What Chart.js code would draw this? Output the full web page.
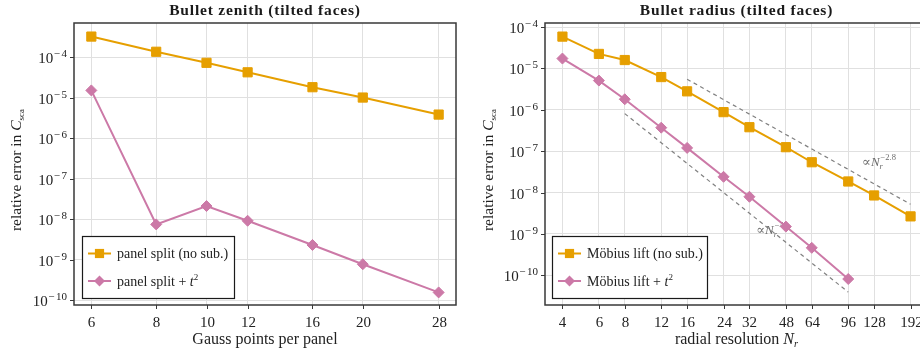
<!DOCTYPE html>
<html>
<head>
<meta charset="utf-8">
<script src="https://cdn.jsdelivr.net/npm/chart.js@4.4.0/dist/chart.umd.min.js"></script>
<style>
  html, body { margin: 0; padding: 0; background: #fff; overflow: hidden; }
  #wrap { position: relative; width: 920px; height: 351px; overflow: hidden; }
  #zenith { position: absolute; left: 0; top: 0; }
  #radius { position: absolute; left: 460px; top: 0; }
</style>
</head>
<body>
<div id="wrap">
  <canvas id="zenith" width="470" height="351"></canvas>
  <canvas id="radius" width="480" height="351"></canvas>
</div>
<script>
// --- data ---
const gaussPts = [6, 8, 10, 12, 16, 20, 28];
const zenithNoSub = [3.2e-4, 1.35e-4, 7.2e-5, 4.2e-5, 1.8e-5, 1.0e-5, 3.8e-6];
const zenithT2 = [1.5e-5, 7.4e-9, 2.1e-8, 9.1e-9, 2.3e-9, 7.7e-10, 1.55e-10];

const radialN = [4, 6, 8, 12, 16, 24, 32, 48, 64, 96, 128, 192];
const radiusNoSub = [5.9e-5, 2.25e-5, 1.6e-5, 6.2e-6, 2.8e-6, 8.8e-7, 3.8e-7, 1.25e-7, 5.4e-8, 1.85e-8, 8.5e-9, 2.65e-9];
const radialNT2 = [4, 6, 8, 12, 16, 24, 32, 48, 64, 96];
const radiusT2 = [1.74e-5, 5.1e-6, 1.8e-6, 3.7e-7, 1.2e-7, 2.4e-8, 7.9e-9, 1.5e-9, 4.6e-10, 8.1e-11];

// reference slopes (dashed)
const refSlowN = [16, 192];
const refSlowErr = [5.5e-6, 5.2e-9];   // ~ N^-2.8
const refFastN = [8, 96];
const refFastErr = [8.1e-7, 3.9e-11];  // ~ N^-4

const yExponents = [-10, -9, -8, -7, -6, -5, -4];

const ORANGE = "#E69F00";
const PINK = "#CC79A7";
const GRID = "#e0e0e0";
const FRAME = "#383838";
const FONT = '"Liberation Serif", "DejaVu Serif", serif';

function fnt(p) {
  return (p.italic ? "italic " : "") + (p.bold ? "bold " : "") + p.size + "px " + FONT;
}

function partWidth(ctx, p) {
  ctx.font = fnt(p);
  ctx.letterSpacing = (p.spacing || 0) + "px";
  return (p.padL || 0) + ctx.measureText(p.text).width;
}

function richWidth(ctx, parts) {
  let w = 0;
  parts.forEach(p => { const pw = partWidth(ctx, p); if (!p.noAdvance) w += pw; });
  return w;
}

// y is the baseline
function drawRich(ctx, parts, x, y, align, color) {
  const w = richWidth(ctx, parts);
  let cx = align === "center" ? x - w / 2 : align === "right" ? x - w : x;
  ctx.textAlign = "left";
  ctx.textBaseline = "alphabetic";
  ctx.fillStyle = color || "#222";
  parts.forEach(p => {
    const pw = partWidth(ctx, p);
    ctx.fillText(p.text, cx + (p.padL || 0), y + (p.dy || 0));
    if (!p.noAdvance) cx += pw;
  });
  ctx.letterSpacing = "0px";
}

function xy(xs, ys) {
  return xs.map((x, i) => ({ x: x, y: ys[i] }));
}

function lineSet(label, xs, ys, color, style, radius) {
  return {
    label: label,
    data: xy(xs, ys),
    borderColor: color,
    backgroundColor: color,
    borderWidth: 2,
    pointStyle: style,
    pointRadius: radius,
    pointBackgroundColor: color,
    pointBorderColor: color,
    pointBorderWidth: 1,
    tension: 0
  };
}

function dashSet(xs, ys) {
  return {
    data: xy(xs, ys),
    borderColor: "#808080",
    borderWidth: 1.2,
    borderDash: [4, 3.5],
    pointRadius: 0,
    tension: 0
  };
}

function drawMarker(ctx, style, x, y, r, color) {
  ctx.fillStyle = color;
  ctx.beginPath();
  if (style === "rect") {
    const s = Math.SQRT1_2 * r;
    ctx.rect(x - s, y - s, 2 * s, 2 * s);
  } else {
    ctx.moveTo(x - r, y); ctx.lineTo(x, y - r); ctx.lineTo(x + r, y); ctx.lineTo(x, y + r);
    ctx.closePath();
  }
  ctx.fill();
}

function noteParts(exp) {
  return [
    { text: "\u221d", size: 13 }, { text: "N", size: 13, italic: true },
    { text: "r", size: 8.5, italic: true, dy: 3, noAdvance: true },
    { text: exp, size: 8.5, dy: -6, padL: 1 }
  ];
}

const setup = {};

const deco = {
  id: "deco",
  beforeDatasetsDraw(chart) {
    const c = setup[chart.canvas.id];
    const ctx = chart.ctx, xs = chart.scales.x, ys = chart.scales.y;
    ctx.save();
    (c.notes || []).forEach(n => {
      drawRich(ctx, n.parts, xs.getPixelForValue(n.x), ys.getPixelForValue(n.y), "left", "#6a6a6a");
    });
    ctx.restore();
  },
  afterDraw(chart) {
    const c = setup[chart.canvas.id];
    const ctx = chart.ctx, a = chart.chartArea;
    const xs = chart.scales.x, ys = chart.scales.y;
    ctx.save();

    // frame
    ctx.strokeStyle = FRAME;
    ctx.lineWidth = 1.5;
    ctx.strokeRect(a.left, a.top, a.right - a.left, a.bottom - a.top);

    // y ticks
    ctx.lineWidth = 1;
    yExponents.forEach(e => {
      const y = Math.round(ys.getPixelForValue(Math.pow(10, e))) + 0.5;
      ctx.beginPath(); ctx.moveTo(a.left - 4, y); ctx.lineTo(a.left, y); ctx.stroke();
      drawRich(ctx, [
        { text: "10", size: 15 },
        { text: "\u2212", size: 11, dy: -6, padL: 0.5 },
        { text: String(-e), size: 11, dy: -6, padL: 1.5 }
      ], a.left - 7, y + 5, "right");
    });

    // x ticks
    c.xTicks.forEach(v => {
      const x = Math.round(xs.getPixelForValue(v)) + 0.5;
      ctx.beginPath(); ctx.moveTo(x, a.bottom); ctx.lineTo(x, a.bottom + 4); ctx.stroke();
      drawRich(ctx, [{ text: String(v), size: 15 }], x, 327, "center");
    });

    const midX = (a.left + a.right) / 2;
    drawRich(ctx, [{ text: c.title, size: 15.5, bold: true, spacing: 0.8 }], midX, 15, "center", "#1a1a1a");
    drawRich(ctx, c.xTitle, midX, 344, "center");

    ctx.save();
    ctx.translate(c.yTitleX, (a.top + a.bottom) / 2 + 6);
    ctx.rotate(-Math.PI / 2);
    drawRich(ctx, [
      { text: "relative error in ", size: 15.5 },
      { text: "C", size: 15.5, italic: true },
      { text: "sca", size: 9, dy: 3 }
    ], 0, 5, "center");
    ctx.restore();

    // legend
    const L = c.legend;
    ctx.fillStyle = "#fff";
    ctx.fillRect(L.x, L.y, L.w, L.h);
    ctx.strokeStyle = "#1a1a1a";
    ctx.lineWidth = 1.2;
    ctx.strokeRect(L.x + 0.5, L.y + 0.5, L.w, L.h);
    L.items.forEach((it, i) => {
      const y = L.y + 17.5 + i * 27.5;
      const x0 = L.x + 6;
      ctx.strokeStyle = it.color;
      ctx.lineWidth = 2;
      ctx.beginPath(); ctx.moveTo(x0, y); ctx.lineTo(x0 + 23, y); ctx.stroke();
      drawMarker(ctx, it.style, x0 + 11.5, y, it.r, it.color);
      drawRich(ctx, it.parts, x0 + 29, y + 4.5, "left");
    });

    ctx.restore();
  }
};

// note: chart.js keeps at least ~point-size padding around the plot,
// so the canvases are a bit wider than their half of the page
function makeChart(id, c) {
  setup[id] = c;
  return new Chart(document.getElementById(id), {
    type: "line",
    data: { datasets: c.datasets },
    options: {
      responsive: false,
      animation: false,
      events: [],
      layout: { padding: { left: 0, right: c.padRight, top: 23, bottom: 0 } },
      plugins: { legend: { display: false }, tooltip: { enabled: false }, title: { display: false } },
      scales: {
        x: {
          type: "logarithmic", min: c.xMin, max: c.xMax,
          afterBuildTicks: s => { s.ticks = c.xTicks.map(v => ({ value: v })); },
          afterFit: s => { s.height = 46; },
          ticks: { display: false },
          grid: { color: GRID, lineWidth: 1, drawTicks: false },
          border: { display: false }
        },
        y: {
          type: "logarithmic", min: c.yMin, max: c.yMax,
          afterBuildTicks: s => { s.ticks = yExponents.map(e => ({ value: Math.pow(10, e) })); },
          afterFit: s => { s.width = c.yWidth; },
          ticks: { display: false },
          grid: { color: GRID, lineWidth: 1, drawTicks: false },
          border: { display: false }
        }
      }
    },
    plugins: [deco]
  });
}

makeChart("zenith", {
  title: "Bullet zenith (tilted faces)",
  xTitle: [{ text: "Gauss points per panel", size: 16 }],
  yTitleX: 16,
  xTicks: gaussPts,
  xMin: 5.556, xMax: 30.24,
  yMin: Math.pow(10, -10.12), yMax: Math.pow(10, -3.16),
  yWidth: 74, padRight: 14,
  datasets: [
    lineSet("panel split + t2", gaussPts, zenithT2, PINK, "rectRot", 5.5),
    lineSet("panel split (no sub.)", gaussPts, zenithNoSub, ORANGE, "rect", 6.5)
  ],
  legend: {
    x: 82, y: 236, w: 152, h: 62,
    items: [
      { color: ORANGE, style: "rect", r: 6.5, parts: [{ text: "panel split (no sub.)", size: 14 }] },
      { color: PINK, style: "rectRot", r: 5.5, parts: [
        { text: "panel split + ", size: 14 }, { text: "t", size: 14, italic: true }, { text: "2", size: 9, dy: -5.5 }] }
    ]
  }
});

makeChart("radius", {
  title: "Bullet radius (tilted faces)",
  xTitle: [{ text: "radial resolution ", size: 16 }, { text: "N", size: 16, italic: true }, { text: "r", size: 10.5, italic: true, dy: 3 }],
  yTitleX: 28,
  xTicks: radialN,
  xMin: 3.295, xMax: 233.1,
  yMin: Math.pow(10, -10.72), yMax: Math.pow(10, -3.9),
  yWidth: 85, padRight: 12,
  datasets: [
    lineSet("M\u00f6bius lift + t2", radialNT2, radiusT2, PINK, "rectRot", 5.5),
    lineSet("M\u00f6bius lift (no sub.)", radialN, radiusNoSub, ORANGE, "rect", 6.5),
    dashSet(refSlowN, refSlowErr),
    dashSet(refFastN, refFastErr)
  ],
  notes: [
    { x: 112, y: 4.4e-8, parts: noteParts("\u22122.8") },
    { x: 34.5, y: 1.0e-9, parts: noteParts("\u22124") }
  ],
  legend: {
    x: 92, y: 236, w: 155, h: 62,
    items: [
      { color: ORANGE, style: "rect", r: 6.5, parts: [{ text: "M\u00f6bius lift (no sub.)", size: 14 }] },
      { color: PINK, style: "rectRot", r: 5.5, parts: [
        { text: "M\u00f6bius lift + ", size: 14 }, { text: "t", size: 14, italic: true }, { text: "2", size: 9, dy: -5.5 }] }
    ]
  }
});
</script>
</body>
</html>
